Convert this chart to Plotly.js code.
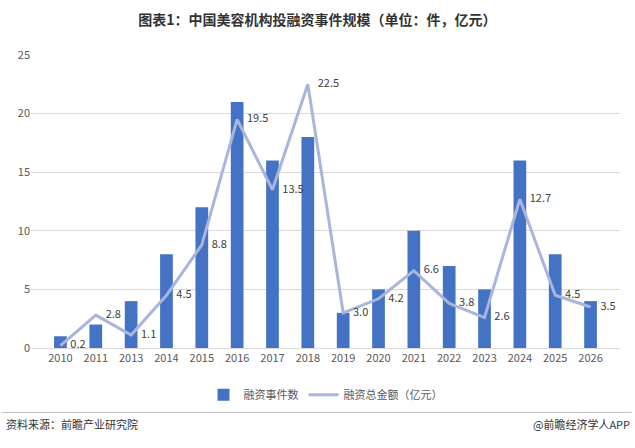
<!DOCTYPE html>
<html><head><meta charset="utf-8">
<script src="https://cdn.plot.ly/plotly-3.0.1.min.js"></script>
<style>body{margin:0;background:#fff}#c{width:635px;height:448px}</style>
</head><body><div id="c"></div>
<script>
var years=['2010','2011','2013','2014','2015','2016','2017','2018','2019','2020','2021','2022','2023','2024','2025','2026'];
var eventCounts=[1,2,4,8,12,21,16,18,3,5,10,7,5,16,8,4];
var amounts=[0.2,2.8,1.1,4.5,8.8,19.5,13.5,22.5,3.0,4.2,6.6,3.8,2.6,12.7,4.5,3.5];
var font="'Microsoft YaHei','Noto Sans CJK SC',sans-serif";
Plotly.newPlot('c',[
 {type:'bar',x:years,y:eventCounts,name:'融资事件数',marker:{color:'#4472C4'},width:0.36},
 {type:'scatter',mode:'lines+text',x:years,y:amounts,name:'融资总金额（亿元）',line:{color:'#A9B5DB',width:3},
  text:amounts.map(function(v){return '\u00a0\u00a0\u00a0\u00a0'+v.toFixed(1)}),textposition:'middle right',textfont:{size:11,color:'#404040',family:font},cliponaxis:false}
],{
 width:635,height:448,margin:{l:31,r:15,t:55,b:100},
 paper_bgcolor:'#fff',plot_bgcolor:'#fff',
 font:{family:font,size:11,color:'#595959'},
 title:{text:'<b>图表1：中国美容机构投融资事件规模（单位：件，亿元）</b>',x:0.5,y:0.965,font:{size:14,color:'#333'}},
 xaxis:{type:'category',showline:true,linecolor:'#D9D9D9',tickfont:{size:11,color:'#595959'}},
 yaxis:{range:[0,25],dtick:5,gridcolor:'#D9D9D9',zeroline:false,tickfont:{size:11,color:'#595959'}},
 legend:{orientation:'h',x:0.5,xanchor:'center',y:-0.11,font:{size:11,color:'#595959'}},
 bargap:0.5,
 shapes:[{type:'line',xref:'paper',yref:'paper',x0:-0.05,x1:1.02,y0:-0.22,y1:-0.22,line:{color:'#BFBFBF',width:1}}],
 annotations:[
  {text:'资料来源：前瞻产业研究院',xref:'paper',yref:'paper',x:-0.045,y:-0.26,xanchor:'left',yanchor:'middle',showarrow:false,font:{size:11,color:'#333'}},
  {text:'@前瞻经济学人APP',xref:'paper',yref:'paper',x:1.02,y:-0.26,xanchor:'right',yanchor:'middle',showarrow:false,font:{size:11,color:'#333'}}
 ]
},{displayModeBar:false});
</script></body></html>
